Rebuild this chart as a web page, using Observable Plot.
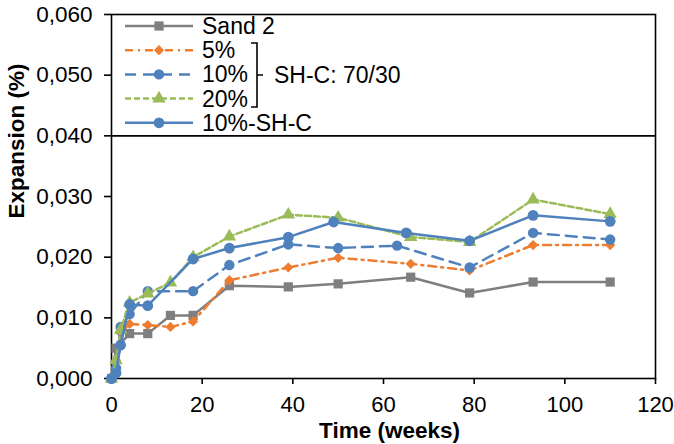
<!DOCTYPE html>
<html><head><meta charset="utf-8">
<script src="https://cdn.jsdelivr.net/npm/d3@7"></script>
<script src="https://cdn.jsdelivr.net/npm/@observablehq/plot@0.6"></script>
<style>
body{margin:0;background:#fff;}
#wrap{position:relative;width:674px;height:444px;background:#fff;}
#wrap svg{position:absolute;left:0;top:0;}
</style></head><body><div id="wrap"></div>
<script>
const FONT = "'Liberation Sans', Arial, Helvetica, sans-serif";
const xTicks = [0, 20, 40, 60, 80, 100, 120];
const yTicks = [0, 0.01, 0.02, 0.03, 0.04, 0.05, 0.06];
const xLabel = "Time (weeks)";
const yLabel = "Expansion (%)";
const groupLabel = "SH-C: 70/30";

const seriesNames = ["Sand 2", "5%", "10%", "20%", "10%-SH-C"];
const seriesColors = ["#7f7f7f", "#ed7d31", "#4f81bd", "#9bbb59", "#4f81bd"];
const seriesDash = [null, "8,5,2,5", "11,7", "6,3", null];

const sand2Weeks = [0, 1, 4, 8, 13, 18, 26, 39, 50, 66, 79, 93, 110];
const sand2Values = [0, 0.0050, 0.0074, 0.0074, 0.0104, 0.0104, 0.0153, 0.0151, 0.0156, 0.0167, 0.0141, 0.0159, 0.0159];

const p5Weeks = [0, 1, 2, 4, 8, 13, 18, 26, 39, 50, 66, 79, 93, 110];
const p5Values = [0, 0.0030, 0.0075, 0.0090, 0.0088, 0.0085, 0.0094, 0.0162, 0.0183, 0.0199, 0.0189, 0.0178, 0.0220, 0.0220];

const p10Weeks = [0, 1, 2, 4, 8, 18, 26, 39, 50, 63, 79, 93, 110];
const p10Values = [0, 0.0017, 0.0085, 0.0106, 0.0144, 0.0144, 0.0187, 0.0221, 0.0215, 0.0219, 0.0183, 0.0240, 0.0229];

const p20Weeks = [0, 1, 2, 4, 8, 13, 18, 26, 39, 50, 66, 79, 93, 110];
const p20Values = [0, 0.0030, 0.0080, 0.0125, 0.0140, 0.0158, 0.0200, 0.0234, 0.0270, 0.0265, 0.0233, 0.0225, 0.0295, 0.0271];

const shcWeeks = [0, 1, 2, 4, 8, 18, 26, 39, 49, 65, 79, 93, 110];
const shcValues = [0, 0.0009, 0.0055, 0.0122, 0.0120, 0.0197, 0.0215, 0.0233, 0.0258, 0.0240, 0.0227, 0.0269, 0.0259];

const diamondSym = {draw(ctx, size) {
  const r = Math.sqrt(size) * 0.6;
  ctx.moveTo(0, -r); ctx.lineTo(r, 0); ctx.lineTo(0, r); ctx.lineTo(-r, 0); ctx.closePath();
}};
const seriesSymbols = [d3.symbolSquare, diamondSym, d3.symbolCircle, d3.symbolTriangle, d3.symbolCircle];
const seriesR = [5.2, 4.8, 5.2, 5, 5.4];

const weeksList = [sand2Weeks, p5Weeks, p10Weeks, p20Weeks, shcWeeks];
const valuesList = [sand2Values, p5Values, p10Values, p20Values, shcValues];

const seriesMarks = [];
seriesNames.forEach((name, i) => {
  const rows = weeksList[i].map((w, j) => ({week: w, value: valuesList[i][j]}));
  seriesMarks.push(Plot.line(rows, {x: "week", y: "value", stroke: seriesColors[i], strokeWidth: 2.5,
    strokeDasharray: seriesDash[i] || undefined, strokeLinejoin: "round"}));
  seriesMarks.push(Plot.dot(rows, {x: "week", y: "value", fill: seriesColors[i], stroke: "none",
    symbol: seriesSymbols[i], r: seriesR[i]}));
});

const fmt = d => d.toFixed(3).replace(".", ",");

const chart = Plot.plot({
  width: 674, height: 444,
  marginLeft: 111, marginRight: 19, marginTop: 14, marginBottom: 66,
  style: {fontFamily: FONT, fontSize: "22px", color: "#000", background: "#fff", overflow: "visible"},
  x: {domain: [0, 120]},
  y: {domain: [0, 0.06]},
  marks: [
    Plot.ruleY([0.04], {stroke: "#000", strokeWidth: 1.6}),
    Plot.frame({stroke: "#000", strokeWidth: 1.6}),
    Plot.axisX({ticks: xTicks, tickSize: 6, tickPadding: 12, label: null, fontSize: 22, strokeWidth: 1.6}),
    Plot.axisY({ticks: yTicks, tickFormat: fmt, tickSize: 7, tickPadding: 12, label: null, fontSize: 22.5, strokeWidth: 1.6}),
    ...seriesMarks,
    Plot.text([yLabel], {frameAnchor: "left", rotate: -90, dx: -95, dy: 22, fontWeight: "bold", fontSize: 22.5}),
    Plot.text([xLabel], {frameAnchor: "bottom", lineAnchor: "middle", dx: 6, dy: 52, fontWeight: "bold", fontSize: 22.5})
  ]
});
document.getElementById("wrap").appendChild(chart);

// Legend overlay (inside the plot area, top)
const leg = d3.select("#wrap").append("svg")
  .attr("width", 674).attr("height", 444)
  .style("pointer-events", "none")
  .attr("font-family", FONT).attr("font-size", 23);
const legY0 = 26, legStep = 24.2;
seriesNames.forEach((name, i) => {
  const y = legY0 + i * legStep;
  leg.append("line").attr("x1", 125).attr("x2", 193).attr("y1", y).attr("y2", y)
    .attr("stroke", seriesColors[i]).attr("stroke-width", 2.5)
    .attr("stroke-dasharray", seriesDash[i] || null);
  leg.append("path").attr("transform", `translate(159,${y})`)
    .attr("d", d3.symbol().type(seriesSymbols[i]).size(Math.PI * seriesR[i] * seriesR[i])())
    .attr("fill", seriesColors[i]);
  leg.append("text").attr("x", 202).attr("y", y).attr("dy", "0.35em").attr("fill", "#000").text(name);
});
leg.append("path").attr("d", "M251,43H257V107H251M257,75H263")
  .attr("fill", "none").attr("stroke", "#000").attr("stroke-width", 1.6);
leg.append("text").attr("x", 274).attr("y", 75).attr("dy", "0.35em").attr("fill", "#000").text(groupLabel);
</script>
</body></html>
